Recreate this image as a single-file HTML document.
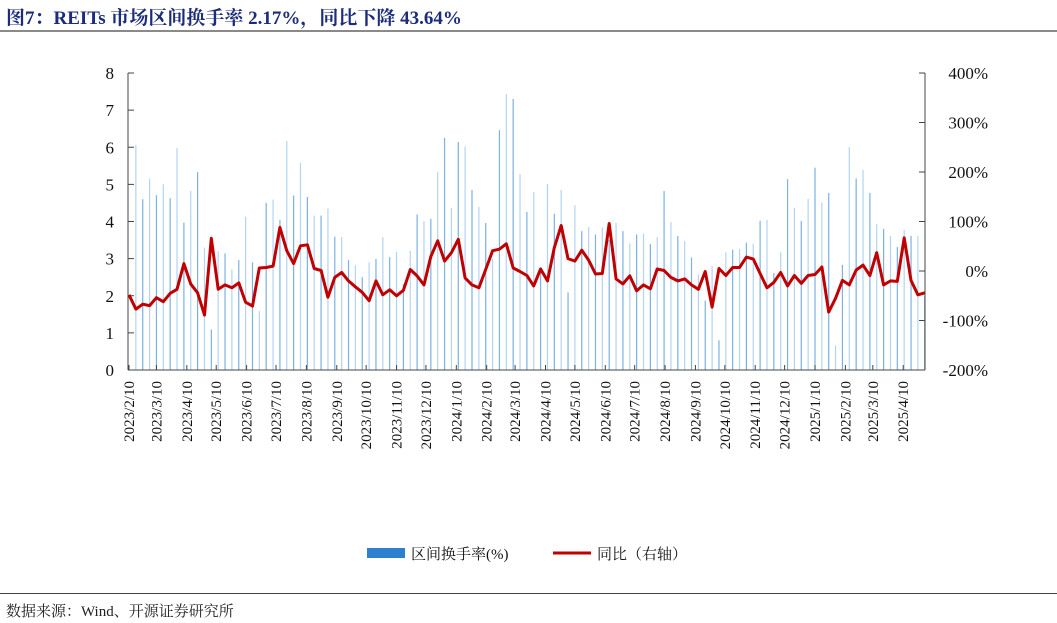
<!DOCTYPE html>
<html><head><meta charset="utf-8">
<style>
html,body{margin:0;padding:0;background:#fff;}
body{width:1057px;height:623px;position:relative;overflow:hidden;font-family:"Liberation Serif","Noto Serif CJK SC",serif;}
#title{position:absolute;left:6px;top:3px;font-size:19px;font-weight:bold;color:#1c2c7c;font-family:"Liberation Serif","Noto Serif CJK SC",serif;white-space:nowrap;}
#title-rule{position:absolute;left:0;top:30px;width:1057px;height:2px;background:#8a8a8a;}
#source-rule{position:absolute;left:0;top:593px;width:1057px;height:1px;background:#444;}
#source{position:absolute;left:6px;top:600px;font-size:15px;color:#222;font-family:"Liberation Serif","Noto Serif CJK SC",serif;}
svg{position:absolute;left:0;top:0;}
</style></head><body>
<div id="title">图7：REITs 市场区间换手率 2.17%，同比下降 43.64%</div>
<div id="title-rule"></div>
<svg id="chart" width="1057" height="623"></svg>
<div id="source-rule"></div>
<div id="source">数据来源：Wind、开源证券研究所</div>
<script>
const turnover = [4.6,6.06,4.60,5.15,4.71,5.0,4.63,5.98,3.97,4.82,5.33,3.30,1.09,3.2,3.14,2.71,2.96,4.13,2.90,1.59,4.50,4.59,4.04,6.17,4.70,5.58,4.66,4.16,4.16,4.35,3.59,3.58,2.96,2.82,2.5,2.90,2.99,3.58,3.04,3.18,2.32,3.21,4.19,4.01,4.07,5.33,6.25,4.37,6.14,6.02,4.85,4.39,3.96,3.0,6.46,7.43,7.30,5.28,4.26,
4.79,2.77,5.01,4.21,4.85,2.09,4.44,3.74,3.85,3.65,3.84,3.5,3.96,3.74,3.41,3.65,3.67,3.39,3.58,4.82,3.98,3.61,3.47,3.03,2.57,1.87,2.80,0.80,3.17,3.24,3.26,3.43,3.4,4.02,4.04,2.61,3.17,5.14,4.37,4.01,4.61,5.45,4.51,4.77,0.66,2.83,6.00,5.16,5.39,4.77,3.93,3.80,3.61,3.31,3.77,3.61,3.61,1.99];
const yoy = [-48,-77,-67,-70,-54,-62,-45,-37,15,-26,-44,-89,66,-37,-28,-34,-24,-63,-71,6,7,10,88,41,15,51,53,5,1,-53,-13,-3,-20,-32,-43,-60,-20,-48,-38,-50,-39,3,-10,-28,29,61,20,37,64,-14,-28,-34,3,41,44,55,6,-1,-9,
-30,4,-20,47,92,25,20,42,22,-6,-5,96,-16,-26,-10,-40,-28,-36,4,1,-13,-20,-16,-28,-37,-1,-73,5,-9,7,7,28,24,-5,-34,-23,-3,-30,-9,-25,-9,-7,8,-83,-55,-19,-28,2,12,-9,37,-28,-20,-21,67,-19,-48,-44];
const xLabels = ["2023/2/10","2023/3/10","2023/4/10","2023/5/10","2023/6/10","2023/7/10","2023/8/10","2023/9/10","2023/10/10","2023/11/10","2023/12/10","2024/1/10","2024/2/10","2024/3/10","2024/4/10","2024/5/10","2024/6/10","2024/7/10","2024/8/10","2024/9/10","2024/10/10","2024/11/10","2024/12/10","2025/1/10","2025/2/10","2025/3/10","2025/4/10"];
const leftTicks = [0,1,2,3,4,5,6,7,8];
const rightTicks = [-200,-100,0,100,200,300,400];

const NS="http://www.w3.org/2000/svg";
const svg=document.getElementById('chart');
const X0=129, STEP=6.86, YT=73, YB=370;
const yL=v=>YB-(v/8)*(YB-YT);
const yR=v=>YB-((v+200)/600)*(YB-YT);
const xi=i=>X0+i*STEP;
const start=new Date(2023,1,10);
const xDate=s=>{const p=s.split('/');const d=new Date(+p[0],+p[1]-1,+p[2]);return X0+((d-start)/86400000/7)*STEP;};
function mk(tag,attrs){const e=document.createElementNS(NS,tag);for(const k in attrs)e.setAttribute(k,attrs[k]);svg.appendChild(e);return e;}

// bars
turnover.forEach((v,i)=>{
 if(i===0) return;
 const b=mk('rect',{x:xi(i)-0.6,y:yL(v),width:1.2,height:YB-yL(v),fill:i%2?'#b3d4f0':'#7ab2e2'});
 
 
});
// axes
const ax=mk('line',{x1:128,y1:YT,x2:128,y2:YB,stroke:'#444','stroke-width':1});


const ax2=mk('line',{x1:925,y1:YT,x2:925,y2:YB,stroke:'#444','stroke-width':1});


const ax3=mk('line',{x1:128,y1:YB,x2:925,y2:YB,stroke:'#444','stroke-width':1});


leftTicks.forEach(v=>{
 const t=mk('line',{x1:128,y1:yL(v),x2:134,y2:yL(v),stroke:'#444'});
 
 
 const l=mk('text',{x:114,y:yL(v)+6,'font-size':17,'text-anchor':'end',fill:'#111'});
 l.textContent=v;
 
 
});
rightTicks.forEach(v=>{
 const t=mk('line',{x1:919,y1:yR(v),x2:925,y2:yR(v),stroke:'#444'});
 
 
 const l=mk('text',{x:988,y:yR(v)+6,'font-size':17,'text-anchor':'end',fill:'#111'});
 l.textContent=v+'%';
 
 
});
xLabels.forEach(s=>{
 const x=xDate(s);
 const t=mk('line',{x1:x,y1:YB,x2:x,y2:YB-5,stroke:'#444'});
 
 
 const l=mk('text',{x:0,y:0,'font-size':15,'text-anchor':'end',fill:'#111',transform:`translate(${x+5},381) rotate(-90)`});
 l.textContent=s;
 
 
});
// line
const pts=yoy.map((v,i)=>xi(i).toFixed(1)+','+yR(v).toFixed(1)).join(' ');
const pl=mk('polyline',{points:pts,fill:'none',stroke:'#c00000','stroke-width':3,'stroke-linejoin':'round'});


// legend
const lg=mk('rect',{x:367,y:548,width:38,height:10,fill:'#2f7fd0'});


const lt=mk('text',{x:411,y:559,'font-size':15,fill:'#111'});
lt.textContent='区间换手率(%)';


const ll=mk('line',{x1:553,y1:553,x2:591,y2:553,stroke:'#c00000','stroke-width':3});


const lt2=mk('text',{x:597,y:559,'font-size':15,fill:'#111'});
lt2.textContent='同比（右轴）';


</script>
</body></html>
